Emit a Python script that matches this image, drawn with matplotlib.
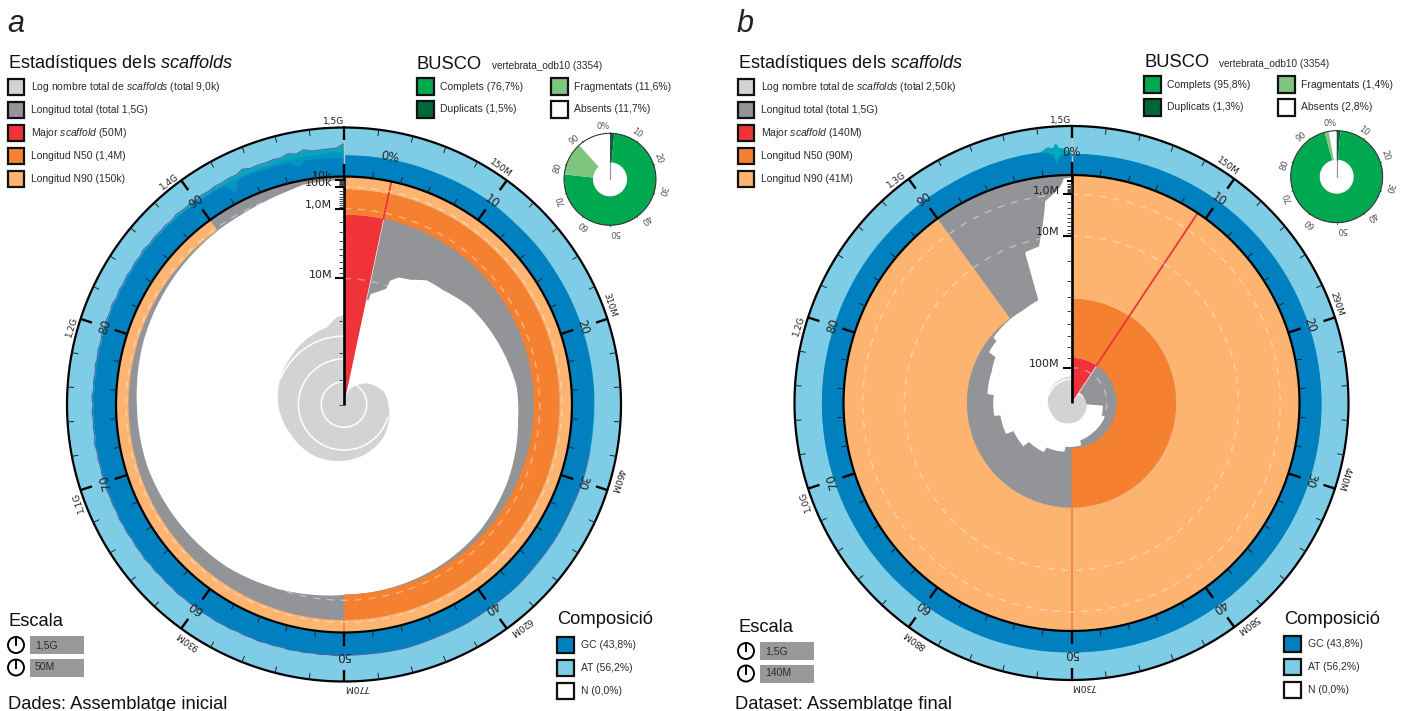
import numpy as np
import matplotlib
matplotlib.use('Agg')
import matplotlib.pyplot as plt
from matplotlib.patches import Rectangle, Circle

plt.rcParams['font.family'] = 'Liberation Sans'
plt.rcParams['mathtext.fontset'] = 'custom'
plt.rcParams['mathtext.rm'] = 'Liberation Sans'
plt.rcParams['mathtext.it'] = 'Liberation Sans:italic'

# colours
GREY = '#929497'
RED = '#EF3338'
ORANGE = '#F58130'
LORANGE = '#FDB471'
LGREY = '#D1D3D4'
BLUE = '#0180BF'
MIDBLUE = '#0792C4'
LBLUE = '#7FCCE6'
TEAL = '#00A8BC'
PURPLE = '#4C63AE'
GREEN = '#00A84F'
DGREEN = '#006838'
LGREEN = '#7EC57D'

# ---- panel a ----
a_total = 1500.0
a_longest = 50.0
a_n50 = 1.4
a_n90 = 0.15
a_len_pct = [3.33, 3.6, 3.7, 4.5, 5.5, 5.6, 6.4, 7.7, 9.3, 11.3, 14.4, 18.6, 23.3, 26.4,
             32, 37, 42, 50, 55, 60, 70, 75, 80, 90, 92, 94, 96, 97, 98, 100]
a_len = [14.0, 14.0, 12.5, 11.7, 10.5, 8.8, 7.7, 7.2, 5.95, 5.65, 4.54, 3.78, 2.9, 2.78,
         2.2, 1.8, 1.6, 1.4, 1.05, 0.75, 0.45, 0.40, 0.28, 0.15, 0.13, 0.09, 0.04, 0.015, 0.012, 0.009]
a_count_pct = [3.33, 4.5, 8.6, 12.7, 19.8, 28, 35.8, 44, 51, 58.6, 67, 76, 86.5, 96.5, 98.6, 100]
a_count_log = [0.44, 0.68, 1.0, 1.36, 1.82, 2.0, 2.21, 2.35, 2.46, 2.59, 2.68, 2.93, 3.16, 3.49, 3.86, 3.95]
a_gc_pct = list(range(0, 50, 2)) + [50 + 0.5 * i for i in range(101)]
a_gc_min = [44, 44, 44, 43.5, 44, 44.5, 43, 44, 43.5, 44, 44, 44, 44, 43, 43, 44, 42, 43, 42, 44, 43, 44, 43, 45, 44,
            45, 45.5, 44.5, 45.5, 44, 45.5, 44.5, 46, 44.5, 45.5, 45, 46.5, 45, 46, 44.5, 46.5, 45.5, 47, 45.5, 46.5,
            45, 46.5, 45.5, 47.5, 45.5, 46.5, 45, 47, 45.5, 47.5, 46, 47, 45.5, 47.5, 46.5, 48, 46, 47.5, 46.5, 48,
            45.5, 47.5, 46, 47.5, 46, 48.5, 45.5, 47, 45.5, 47.5, 45.5, 48, 45, 46.5, 45, 47, 45.5, 47.5, 45.5, 48,
            46, 47.5, 46.5, 48.5, 46, 48, 46.5, 48, 47, 49, 47.5, 49, 47.5, 49, 47.5, 48.5, 47, 48, 46, 47,
            45, 45, 44, 44, 43, 22, 42, 43, 42, 42, 41, 41, 41, 40, 28, 40, 39, 39, 38, 38, 36]
a_gc_max = [44, 44.5, 44.5, 44, 44.5, 45, 43.5, 44.5, 44, 44.5, 44.5, 45, 45, 44.5, 45, 45.5, 44, 45, 44.5, 46, 45, 46, 45, 47, 46,
            46, 47.5, 46, 47, 45.5, 47, 46, 47.5, 46, 47, 46.5, 48, 46.5, 47.5, 46, 48, 47, 48.5, 47, 48,
            46.5, 48, 47, 49, 47, 48, 46.5, 48.5, 47, 49, 47.5, 48.5, 47, 49, 48, 49.5, 47.5, 49, 48, 49.5,
            47, 49, 47.5, 49, 47.5, 50, 47, 48.5, 47, 49, 47, 49.5, 46.5, 48, 46.5, 48.5, 47, 49, 47, 49.5,
            47.5, 49, 48, 50, 47.5, 49.5, 48, 50, 48.5, 50.5, 49, 52, 49, 51, 49.5, 51, 49, 52, 50, 51,
            50, 51.5, 50, 52, 51, 53, 52, 58, 53, 54, 53, 55, 54, 59, 55, 61, 56, 56.5, 57, 58, 67]
a_mid_pct = [0, 50, 85, 90, 92, 94, 96, 98, 100]
a_gc_mid = [40, 40, 46, 47, 47, 46.5, 47, 48, 51]
a_outer_labels = ['150M', '310M', '460M', '620M', '770M', '930M', '1,1G', '1,2G', '1,4G', '1,5G']
a_axis_labels = {10.0: '10M', 1.0: '1,0M', 0.1: '100k', 0.01: '10k'}
a_legend = ['Log nombre total de $\\mathit{scaffolds}$ (total 9,0k)', 'Longitud total (total 1,5G)',
            'Major $\\mathit{scaffold}$ (50M)', 'Longitud N50 (1,4M)', 'Longitud N90 (150k)']
a_busco = [76.7, 1.5, 11.6, 11.7]
a_busco_labels = ['Complets (76,7%)', 'Duplicats (1,5%)', 'Fragmentats (11,6%)', 'Absents (11,7%)']

# ---- panel b ----
b_total = 1500.0
b_longest = 140.0
b_n50 = 90.0
b_n90 = 41.0
b_len_pct = [9.33, 26.0, 26.1, 31, 31.1, 36.6, 40.7, 46.5, 46.6, 52.4, 52.5, 58.3, 58.4, 63.4, 63.5, 68, 68.1,
             72.4, 72.5, 76.7, 76.8, 81, 83.7, 83.8, 86, 86.1, 90, 92.3, 95, 95.2, 96.7, 97.9, 99.4, 100]
b_len = [124.6, 123.4, 104.7, 103.6, 100, 99.8, 99.4, 97.4, 92.4, 91.4, 86.5, 84.6, 79.4, 78.1, 71.8, 71.8, 65,
         65, 60, 60, 55, 54, 51.6, 45.8, 45.5, 42.4, 41, 40.6, 38.4, 13.1, 12.3, 1.54, 0.024, 0.01]
b_count_pct = [9.33, 25, 36, 44, 52, 59, 69, 79, 89, 100]
b_count_log = [1.38, 1.8, 2.0, 2.25, 2.5, 2.75, 2.88, 3.1, 3.3, 3.4]
b_gc_pct = [0, 10, 20, 30, 40, 50, 55, 60, 65, 70, 75, 80, 85, 88, 90, 92, 94, 95, 96, 97, 98, 98.2, 98.5, 98.8, 99, 99.2, 99.5, 99.8, 100]
b_gc_min = [44, 44, 43.5, 44, 43.5, 42.5, 44, 44, 44.5, 44.5, 45, 45, 46, 46, 47, 47, 49, 50, 50.5, 51, 51, 50, 47, 44, 24, 40, 44, 44, 44]
b_gc_max = [44, 44, 43.5, 44, 43.5, 42.5, 44, 44, 44.5, 44.5, 45, 45, 46, 46, 47, 47, 49, 50, 50.5, 51, 51, 55, 60, 57, 67, 57, 55, 50, 44]
b_outer_labels = ['150M', '290M', '440M', '580M', '730M', '880M', '1,0G', '1,2G', '1,3G', '1,5G']
b_axis_labels = {100.0: '100M', 10.0: '10M', 1.0: '1,0M'}
b_legend = ['Log nombre total de $\\mathit{scaffolds}$ (total 2,50k)', 'Longitud total (total 1,5G)',
            'Major $\\mathit{scaffold}$ (140M)', 'Longitud N50 (90M)', 'Longitud N90 (41M)']
b_busco = [95.8, 1.3, 1.4, 2.8]
b_busco_labels = ['Complets (95,8%)', 'Duplicats (1,3%)', 'Fragmentats (1,4%)', 'Absents (2,8%)']

legend_colors = [LGREY, GREY, RED, ORANGE, LORANGE]
gc_labels = ['GC (43,8%)', 'AT (56,2%)', 'N (0,0%)']

W, H = 1406, 711
R_IN = 228.0
R_OUT = 277.0
TXT = '#2A2A2A'

fig = plt.figure(figsize=(W / 100, H / 100), dpi=100)
bg = fig.add_axes([0, 0, 1, 1])
bg.set_xlim(0, W)
bg.set_ylim(H, 0)
bg.set_axis_off()


def polar_axes(cx, cy, rmax):
    ax = fig.add_axes([(cx - rmax) / W, 1 - (cy + rmax) / H, 2 * rmax / W, 2 * rmax / H], projection='polar')
    ax.set_theta_zero_location('N')
    ax.set_theta_direction(-1)
    ax.set_ylim(0, rmax)
    ax.set_axis_off()
    return ax


def th(p):
    return np.asarray(p, dtype=float) * 2 * np.pi / 100


def ring(ax, p0, p1, r0, r1, color, z):
    ax.bar(th((p0 + p1) / 2), r1 - r0, width=th(p1 - p0), bottom=r0, color=color, linewidth=0, zorder=z)


def snail(cx, cy, total, longest, n50, n90, len_pct, lens, count_pct, count_log, log_k, log_levels,
          gc_pct, gc_min, gc_max, outer_labels, axis_labels, low_decade, zero_pct, purple_from, mid=None):
    ax = polar_axes(cx, cy, 280)

    def rad(length):
        return R_IN * (1 - np.sqrt(np.asarray(length, dtype=float) / longest))

    def gc_r(gc):
        return R_IN + (R_OUT - R_IN) * np.asarray(gc, dtype=float) / 100

    major_pct = longest / total * 100

    # composition ring
    ring(ax, 0, 100, R_IN, R_OUT, LBLUE, 1)
    p = np.linspace(0, 100, 4001)
    lo = np.interp(p, gc_pct, gc_min)
    hi = np.interp(p, gc_pct, gc_max)
    ax.fill_between(th(p), gc_r(hi), R_IN, color=TEAL, linewidth=0, zorder=2)
    if mid is not None:
        ax.fill_between(th(p), gc_r(np.interp(p, mid[0], mid[1])), R_IN, color=MIDBLUE, linewidth=0, zorder=2.5)
    ax.fill_between(th(p), gc_r(lo), R_IN, color=BLUE, linewidth=0, zorder=3)
    if purple_from is not None:
        keep = p >= purple_from
        ax.plot(th(p[keep]), gc_r(hi[keep]), color=PURPLE, lw=0.8, zorder=4)

    # scaffolds
    p = np.linspace(major_pct, 100, 2001)
    ax.fill_between(th(p), rad(np.interp(p, len_pct, lens)), R_IN, color=GREY, linewidth=0, zorder=2)
    ring(ax, 0, 50, rad(n50), rad(n90), ORANGE, 3)
    ring(ax, 0, 90, rad(n90), R_IN, LORANGE, 3)
    ax.plot(th([50, 50]), [rad(n90), R_IN], color=ORANGE, lw=1.2, zorder=4)

    # log count spiral
    log_r = np.interp(p, count_pct, count_log) * log_k
    ax.fill_between(th(p), log_r, 0, color=LGREY, linewidth=0, zorder=4)
    for level in log_levels:
        keep = log_r >= level * log_k + 1
        ax.plot(th(p[keep]), np.full(keep.sum(), level * log_k), color='white', lw=1.1, zorder=5)

    # largest scaffold
    ring(ax, 0, major_pct, 0, rad(n50), RED, 6)
    ax.plot(th([major_pct, major_pct]), [rad(n50), R_IN], color=RED, lw=1.3, zorder=6)

    # dashed grid
    circle = np.linspace(0, 2 * np.pi, 720)
    for length in axis_labels:
        if length > low_decade:
            ax.plot(circle, np.full(720, rad(length)), color='white', alpha=0.4, lw=1,
                    ls=(0, (5, 5)), zorder=7)

    # circles and ring ticks
    ax.plot(circle, np.full(720, R_IN), color='black', lw=1.6, zorder=9)
    ax.plot(circle, np.full(720, R_OUT), color='black', lw=1.6, zorder=9)
    ax.plot([0, 0], [R_IN + 13, R_OUT - 12], color='#B5C6CE', lw=1.0, zorder=8)
    for k in range(0, 100, 2):
        t = th(k)
        if k % 10 == 0:
            ax.plot([t, t], [R_IN, R_IN + 13], color='black', lw=1.7, zorder=9, solid_capstyle='butt')
            ax.plot([t, t], [R_OUT - 12, R_OUT], color='black', lw=1.7, zorder=9, solid_capstyle='butt')
        else:
            ax.plot([t, t], [R_IN, R_IN + 6], color='#222222', lw=0.7, zorder=9)
            ax.plot([t, t], [R_OUT - 6, R_OUT], color='#222222', lw=0.7, zorder=9)

    # ring labels
    ax.text(th(zero_pct), 251, '0%', family='DejaVu Sans', fontsize=8.5, ha='center', va='center',
            rotation=-3.6 * zero_pct, rotation_mode='anchor', color='#222222', zorder=10)
    for k in range(10, 100, 10):
        ax.text(th(k), 251, str(k), family='DejaVu Sans', fontsize=8.5, ha='center', va='center',
                rotation=-3.6 * k, rotation_mode='anchor', color='#222222', zorder=10)
    for k, label in zip(range(10, 101, 10), outer_labels):
        ax.text(th(k), R_OUT + 1.5, label, family='DejaVu Sans', fontsize=6.5, ha='right', va='bottom',
                rotation=-3.6 * k, rotation_mode='anchor', color='#222222', zorder=10)

    # radial axis, sideways marks placed through the polar transform
    ax.plot([0, 0], [0, R_IN], color='black', lw=1.9, zorder=11, solid_capstyle='butt')

    def side(dx, r):
        return np.arctan2(dx, r), np.hypot(dx, r)

    decade = low_decade
    while decade < longest:
        for m in range(1, 10):
            length = m * decade
            if length > longest:
                break
            is_major = length in axis_labels or m == 1
            dx = -9 if is_major and length in axis_labels else -5
            r = float(rad(length))
            a0, r0 = side(dx, r)
            ax.plot([a0, 0], [r0, r], color='black' if is_major else '#444444',
                    lw=1.5 if is_major else 0.7, zorder=11, solid_capstyle='butt')
        decade *= 10
    for length, label in axis_labels.items():
        r = float(rad(length))
        a0, r0 = side(-12, r + 3.5)
        ax.text(a0, r0, label, family='DejaVu Sans', fontsize=8, ha='right', va='center',
                color='#222222', zorder=12)
    return ax


def busco_pie(cx, cy, values):
    ax = polar_axes(cx, cy, 47)
    hole = 17
    radius = 46
    complete, dup, frag, missing = values
    ring(ax, 0, dup, hole, radius, DGREEN, 2)
    ring(ax, dup, complete, hole, radius, GREEN, 2)
    ring(ax, complete, complete + frag, hole, radius, LGREEN, 2)
    circle = np.linspace(0, 2 * np.pi, 360)
    ax.plot(circle, np.full(360, radius), color='#333333', lw=0.8, zorder=3)
    ax.plot([0, 0], [0, hole], color='#999999', lw=0.9, zorder=3)
    ax.plot([0, 0], [hole, radius], color='#444444', lw=0.7, zorder=3)
    for k in range(0, 100, 10):
        ax.plot(th([k, k]), [radius, radius + 1], color='#333333', lw=0.6, zorder=3, clip_on=False)
        label = '0%' if k == 0 else str(k)
        ax.text(th(k), radius + 2.5, label, fontsize=6, family='DejaVu Sans', ha='right', va='bottom',
                rotation=-3.6 * k, rotation_mode='anchor', color='#555555')


def swatch(x, y, color):
    bg.add_patch(Rectangle((x, y), 16.5, 16.5, facecolor=color, edgecolor='#111111', lw=1.6))


def legends(x0, rows, busco_x, busco_y, busco_labels, comp_x, comp_y, scale_y, scale_text, data_x, data_text, letter):
    bg.text(x0 - 1, 32, letter, fontsize=22, style='italic', color='#222222')
    bg.text(x0, 68, 'Estadístiques dels $\\mathit{scaffolds}$', fontsize=13.1, color='#111111')
    for i, (label, color) in enumerate(zip(rows, legend_colors)):
        y = 78.5 + i * 23
        swatch(x0 - 0.5, y, color)
        bg.text(x0 + 23, y + 8.5, label, fontsize=7.5, va='center', color=TXT)

    bg.text(busco_x, busco_y + 8, 'BUSCO', fontsize=13.2, color='#111111')
    bg.text(busco_x + 75, busco_y + 8, 'vertebrata_odb10 (3354)', fontsize=7.2, color=TXT)
    cells = [(0, 0, GREEN), (0, 1, DGREEN), (1, 0, LGREEN), (1, 1, 'white')]
    for label, (col, row, color) in zip(busco_labels, cells):
        x = busco_x + col * 134
        y = busco_y + 17 + row * 23
        swatch(x, y, color)
        bg.text(x + 23, y + 8.5, label, fontsize=7.5, va='center', color=TXT)

    bg.text(comp_x, comp_y, 'Composició', fontsize=13.2, va='center', color='#111111')
    for i, (label, color) in enumerate(zip(gc_labels, [BLUE, LBLUE, 'white'])):
        y = comp_y + 16.5 + i * 23
        swatch(comp_x, y, color)
        bg.text(comp_x + 24, y + 8.5, label, fontsize=7.5, va='center', color=TXT)

    bg.text(x0, scale_y, 'Escala', fontsize=13.2, va='center', color='#111111')
    for i, label in enumerate(scale_text):
        cy = scale_y + 24 + i * 22.5
        bg.add_patch(Circle((x0 + 8, cy), 8, facecolor='white', edgecolor='black', lw=1.4))
        bg.plot([x0 + 8, x0 + 8], [cy, cy - 8], color='black', lw=1.4)
        bg.add_patch(Rectangle((x0 + 22, cy - 9), 54, 18, facecolor='#999999', edgecolor='none'))
        bg.text(x0 + 27, cy, label, fontsize=7.5, va='center', color=TXT)

    bg.text(data_x, 709, data_text, fontsize=13.2, color='#111111')


snail(344, 404.5, a_total, a_longest, a_n50, a_n90, a_len_pct, a_len, a_count_pct, a_count_log, 22.8, [1, 2, 3],
      a_gc_pct, a_gc_min, a_gc_max, a_outer_labels, a_axis_labels, 0.01, 2.9, 28, mid=(a_mid_pct, a_gc_mid))
snail(1071.5, 403, b_total, b_longest, b_n50, b_n90, b_len_pct, b_len, b_count_pct, b_count_log, 8.0, [3],
      b_gc_pct, b_gc_min, b_gc_max, b_outer_labels, b_axis_labels, 0.1, 0, None)
busco_pie(610, 179.3, a_busco)
busco_pie(1336.7, 176.7, b_busco)

legends(8, a_legend, 417, 61, a_busco_labels, 557, 620, 621, ['1,5G', '50M'], 8, 'Dades: Assemblatge inicial', 'a')
legends(738, b_legend, 1144, 59, b_busco_labels, 1284, 619, 627, ['1,5G', '140M'], 735, 'Dataset: Assemblatge final', 'b')

fig.savefig('out.png', dpi=100)
